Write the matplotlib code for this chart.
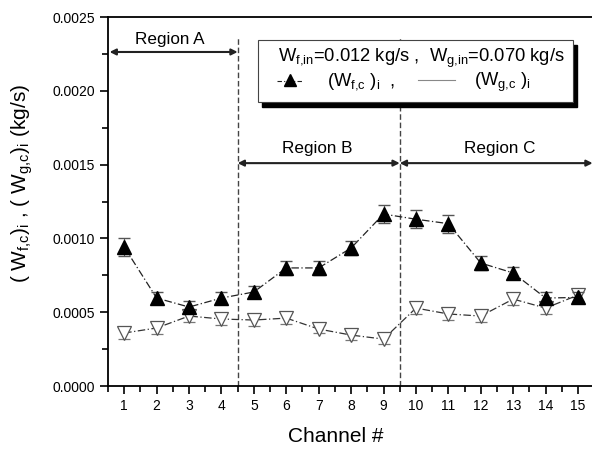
import matplotlib
matplotlib.use('Agg')
import matplotlib.pyplot as plt
from matplotlib.patches import Rectangle
from matplotlib.lines import Line2D
from matplotlib.ticker import MultipleLocator, FormatStrFormatter

plt.rcParams['font.family'] = ['Liberation Sans', 'DejaVu Sans']
plt.rcParams['mathtext.fontset'] = 'custom'
plt.rcParams['mathtext.rm'] = 'Liberation Sans'
plt.rcParams['mathtext.it'] = 'Liberation Sans'

# channel-wise flow rates (kg/s)
channels = list(range(1, 16))
w_fc = [0.000942, 0.000596, 0.000535, 0.000596, 0.000637, 0.000800, 0.000800, 0.000935,
        0.001165, 0.001130, 0.001100, 0.000833, 0.000766, 0.000596, 0.000600]
w_fc_err = [0.00006, 0.00004, 0.00004, 0.00004, 0.00004, 0.00005, 0.00005, 0.00005,
            0.00006, 0.00006, 0.00006, 0.00005, 0.00004, 0.00004, 0.00004]
w_gc = [0.000359, 0.000393, 0.000474, 0.000454, 0.000447, 0.000460, 0.000386, 0.000345,
        0.000318, 0.000528, 0.000488, 0.000474, 0.000589, 0.000528, 0.000616]
w_gc_err = [0.00004, 0.00004, 0.00004, 0.00004, 0.00004, 0.00004, 0.00003, 0.00003,
            0.00003, 0.00004, 0.00004, 0.00004, 0.00004, 0.00004, 0.00004]

region_bounds = [4.5, 9.5]

fig = plt.figure(figsize=(5.92, 4.51), dpi=100)
ax = fig.add_axes([0.1824, 0.1441, 0.8214, 0.8182])

dashdot = (0, (6, 2, 1, 2))

# gas side: open down triangles
ax.errorbar(channels, w_gc, yerr=w_gc_err, fmt='v', color='#555555', ecolor='#777777',
            mfc='white', mec='#555555', ms=10, mew=0.9, capsize=4, elinewidth=0.8, zorder=3)
ax.plot(channels, w_gc, linestyle=dashdot, color='#333333', lw=0.9, zorder=2)

# liquid side: filled triangles
ax.errorbar(channels, w_fc, yerr=w_fc_err, fmt='^', color='black', ecolor='#555555',
            ms=10, capsize=4, elinewidth=0.8, zorder=4)
ax.plot(channels, w_fc, linestyle=dashdot, color='#222222', lw=0.9, zorder=2)

for xb in region_bounds:
    ax.plot([xb, xb], [0, 0.00236], linestyle=(0, (4, 2)), color='#444444', lw=1.0, zorder=1)

# region arrows
arrow_kw = dict(arrowstyle='<|-|>', color='#222222', lw=1.5, mutation_scale=9, shrinkA=0, shrinkB=0)
ax.annotate('', xy=(0.55, 0.002263), xytext=(4.5, 0.002263), arrowprops=arrow_kw)
ax.annotate('', xy=(4.5, 0.00151), xytext=(9.5, 0.00151), arrowprops=arrow_kw)
ax.annotate('', xy=(9.5, 0.00151), xytext=(15.45, 0.00151), arrowprops=arrow_kw)
ax.text(2.42, 0.00235, 'Region A', ha='center', va='center', fontsize=12.3)
ax.text(6.94, 0.00161, 'Region B', ha='center', va='center', fontsize=12.3)
ax.text(12.6, 0.00161, 'Region C', ha='center', va='center', fontsize=12.3)

# legend box with shadow
shadow = Rectangle((0.3165, 0.7566), 0.6478, 0.1681, transform=ax.transAxes,
                   facecolor='black', edgecolor='black', zorder=5)
box = Rectangle((0.3085, 0.7696), 0.6478, 0.1681, transform=ax.transAxes,
                facecolor='white', edgecolor='#444444', lw=0.8, zorder=6)
ax.add_patch(shadow)
ax.add_patch(box)
ax.text(0.35, 0.889, r'$\mathregular{W_{f{,}in}}$=0.012 kg/s ,  $\mathregular{W_{g{,}in}}$=0.070 kg/s',
        transform=ax.transAxes, fontsize=13.2, va='center', ha='left', zorder=7)
ax.add_line(Line2D([0.348, 0.402], [0.826, 0.826], transform=ax.transAxes,
                   linestyle=(0, (4, 2, 1, 2)), color='#222222', lw=0.8, zorder=7))
ax.add_line(Line2D([0.375], [0.829], transform=ax.transAxes, marker='^', color='black',
                   ms=8, zorder=8))
ax.text(0.45, 0.824, r'($\mathregular{W_{f{,}c}}$ )$\mathregular{_i}$  ,', transform=ax.transAxes,
        fontsize=13.2, va='center', ha='left', zorder=7)
ax.add_line(Line2D([0.638, 0.713], [0.829, 0.829], transform=ax.transAxes,
                   color='#888888', lw=0.8, zorder=7))
ax.text(0.752, 0.824, r'($\mathregular{W_{g{,}c}}$ )$\mathregular{_i}$', transform=ax.transAxes,
        fontsize=13.2, va='center', ha='left', zorder=7)

ax.set_xlim(0.5, 15.5)
ax.set_ylim(0, 0.0025)
ax.set_xticks(channels)
ax.xaxis.set_minor_locator(MultipleLocator(0.5))
ax.yaxis.set_major_locator(MultipleLocator(0.0005))
ax.yaxis.set_minor_locator(MultipleLocator(0.00025))
ax.yaxis.set_major_formatter(FormatStrFormatter('%.4f'))
ax.tick_params(which='both', direction='out', labelsize=10, width=1.2)
ax.tick_params(which='major', length=6)
ax.tick_params(which='minor', length=4)
for s in ax.spines.values():
    s.set_linewidth(1.3)

ax.set_xlabel('Channel #', fontsize=15, labelpad=10, x=0.469)
ax.set_ylabel(r'( $\mathregular{W_{f{,}c}}$)$\mathregular{_i}$ , ( $\mathregular{W_{g{,}c}}$)$\mathregular{_i}$ (kg/s)',
              fontsize=15, labelpad=12, y=0.55)

fig.savefig('out.png', dpi=100)
